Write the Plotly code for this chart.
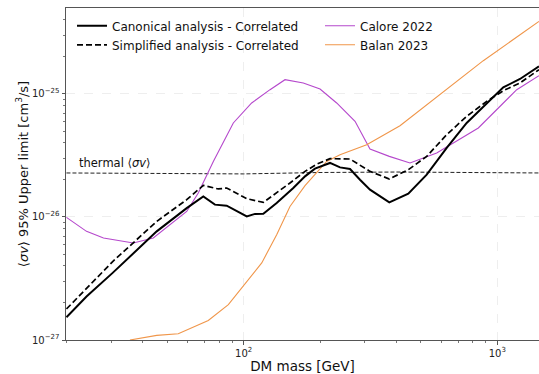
import plotly.graph_objects as go

# ---------------- data ----------------
canon_mass = [20, 24, 30.5, 45.4, 59.6, 69.3, 77, 85.7, 102.8, 110.8, 119.5, 134.9, 156.9,
              174.5, 191, 218.9, 239.8, 262.6, 287.5, 314.8, 375.1, 445.7, 526.8, 631.7,
              757.2, 908.2, 1056, 1229, 1460]
canon_sv = [1.53e-27, 2.26e-27, 3.53e-27, 7.64e-27, 1.18e-26, 1.47e-26, 1.26e-26, 1.235e-26,
            1.01e-26, 1.06e-26, 1.064e-26, 1.30e-26, 1.72e-26, 2.14e-26, 2.47e-26, 2.75e-26,
            2.53e-26, 2.456e-26, 2.01e-26, 1.667e-26, 1.314e-26, 1.547e-26, 2.207e-26,
            3.64e-26, 5.81e-26, 8.45e-26, 1.132e-25, 1.324e-25, 1.677e-25]

simp_mass = [20, 24, 30.5, 45.4, 59.6, 69.3, 79.4, 85.7, 102.8, 119.5, 134.9, 152.2, 174.5,
             194.1, 218.9, 262.6, 314.8, 375.1, 445.7, 526.8, 631.7, 757.2, 908.2, 1056,
             1229, 1460]
simp_sv = [1.786e-27, 2.648e-27, 4.36e-27, 9.21e-27, 1.383e-26, 1.806e-26, 1.69e-26, 1.72e-26,
           1.409e-26, 1.314e-26, 1.567e-26, 1.889e-26, 2.348e-26, 2.687e-26, 2.979e-26,
           2.96e-26, 2.348e-26, 2.037e-26, 2.424e-26, 3.11e-26, 4.67e-26, 6.58e-26,
           8.71e-26, 1.064e-25, 1.229e-25, 1.576e-25]

calore_mass = [20, 24, 28, 36.7, 44, 51.2, 59.6, 66.2, 75.9, 91, 107.5, 127, 145.5, 171.8,
               200, 232.6, 274.8, 314.8, 375.1, 452.6, 576.8, 841.7, 1025, 1193, 1460]
calore_sv = [9.93e-27, 7.64e-27, 6.75e-27, 6.14e-27, 6.75e-27, 8.66e-27, 1.11e-26, 1.567e-26,
             2.83e-26, 5.81e-26, 8.45e-26, 1.084e-25, 1.307e-25, 1.229e-25, 1.098e-25,
             8.45e-26, 5.99e-26, 3.57e-26, 3.11e-26, 2.75e-26, 3.31e-26, 5.29e-26, 7.93e-26,
             1.084e-25, 1.409e-25]

balan_mass = [35.6, 45.4, 55.2, 72.5, 87, 99.6, 117.8, 134.9, 152.2, 174.5, 212.4, 239.8,
              305.5, 413.3, 594.3, 880.6, 1460]
balan_sv = [1.0e-27, 1.09e-27, 1.125e-27, 1.443e-27, 1.936e-27, 2.728e-27, 4.23e-27, 7.18e-27,
            1.219e-26, 1.797e-26, 2.83e-26, 3.21e-26, 3.87e-26, 5.52e-26, 9.87e-26, 1.865e-25,
            3.89e-25]

thermal_mass = [20, 60, 100, 200, 400, 1460]
thermal_sv = [2.28e-26, 2.24e-26, 2.24e-26, 2.30e-26, 2.32e-26, 2.28e-26]

x_major = [100, 1000]
x_major_text = ["10<sup>2</sup>", "10<sup>3</sup>"]
x_minor = [20, 30, 40, 50, 60, 70, 80, 90, 200, 300, 400, 500, 600, 700, 800, 900]
y_major = [1e-27, 1e-26, 1e-25]
y_major_text = ["10<sup>\u221227</sup>", "10<sup>\u221226</sup>", "10<sup>\u221225</sup>"]
y_minor = [m * 10.0 ** e for e in (-27, -26, -25) for m in range(2, 10) if m * 10.0 ** e < 5e-25]

FONT = "DejaVu Sans"

fig = go.Figure()

fig.add_trace(go.Scatter(x=thermal_mass, y=thermal_sv, mode="lines", showlegend=False,
                         line=dict(color="#222222", width=1, dash="4px,2px")))
fig.add_trace(go.Scatter(x=calore_mass, y=calore_sv, mode="lines", name="Calore 2022",
                         legend="legend2", line=dict(color="#b548cc", width=1.1)))
fig.add_trace(go.Scatter(x=balan_mass, y=balan_sv, mode="lines", name="Balan 2023",
                         legend="legend2", line=dict(color="#f0964a", width=1.1)))
fig.add_trace(go.Scatter(x=canon_mass, y=canon_sv, mode="lines",
                         name="Canonical analysis - Correlated", legend="legend", legendrank=1,
                         line=dict(color="black", width=2)))
fig.add_trace(go.Scatter(x=simp_mass, y=simp_sv, mode="lines",
                         name="Simplified analysis - Correlated", legend="legend", legendrank=2,
                         line=dict(color="black", width=1.7, dash="6px,3px")))

axis_common = dict(
    type="log", showline=True, linecolor="#555555", linewidth=1,
    ticks="outside", ticklen=3.5, tickwidth=1, tickcolor="#555555",
    showgrid=True, gridcolor="#eeeeee", gridwidth=1, griddash="dash",
    zeroline=False, tickfont=dict(family=FONT, size=10, color="#222222"),
    tickmode="array",
)

fig.update_layout(
    width=539, height=374,
    margin=dict(l=66, r=0, t=8, b=34),
    paper_bgcolor="white", plot_bgcolor="white",
    font=dict(family=FONT, color="#111111"),
    xaxis=dict(**axis_common, range=[1.29929, 3.16443], tickvals=x_major, ticktext=x_major_text,
               mirror=True,
               minor=dict(tickvals=x_minor, ticks="outside", ticklen=2, tickcolor="#777777",
                          showgrid=False),
               title=dict(text="DM mass [GeV]", font=dict(family=FONT, size=13.5), standoff=4)),
    yaxis=dict(**axis_common, range=[-27, -24.301], tickvals=y_major, ticktext=y_major_text,
               minor=dict(tickvals=y_minor, ticks="outside", ticklen=2, tickcolor="#777777",
                          showgrid=False),
               title=dict(text="\u27e8<i>\u03c3v</i>\u27e9 95% Upper limit [cm<sup>3</sup>/s]",
                          font=dict(family=FONT, size=13), standoff=0)),
    legend=dict(x=0.0127, y=0.99, xanchor="left", yanchor="top", bgcolor="rgba(0,0,0,0)",
                font=dict(family=FONT, size=12), tracegroupgap=0),
    legend2=dict(x=0.537, y=0.99, xanchor="left", yanchor="top", bgcolor="rgba(0,0,0,0)",
                 font=dict(family=FONT, size=12), tracegroupgap=0),
    annotations=[dict(x=0.0233, y=-25.642, xref="paper", yref="y", xanchor="left",
                      yanchor="bottom", yshift=1, showarrow=False,
                      text="thermal \u27e8<i>\u03c3v</i>\u27e9",
                      font=dict(family=FONT, size=11.5, color="#111111"))],
)

fig.write_html("out.html")
